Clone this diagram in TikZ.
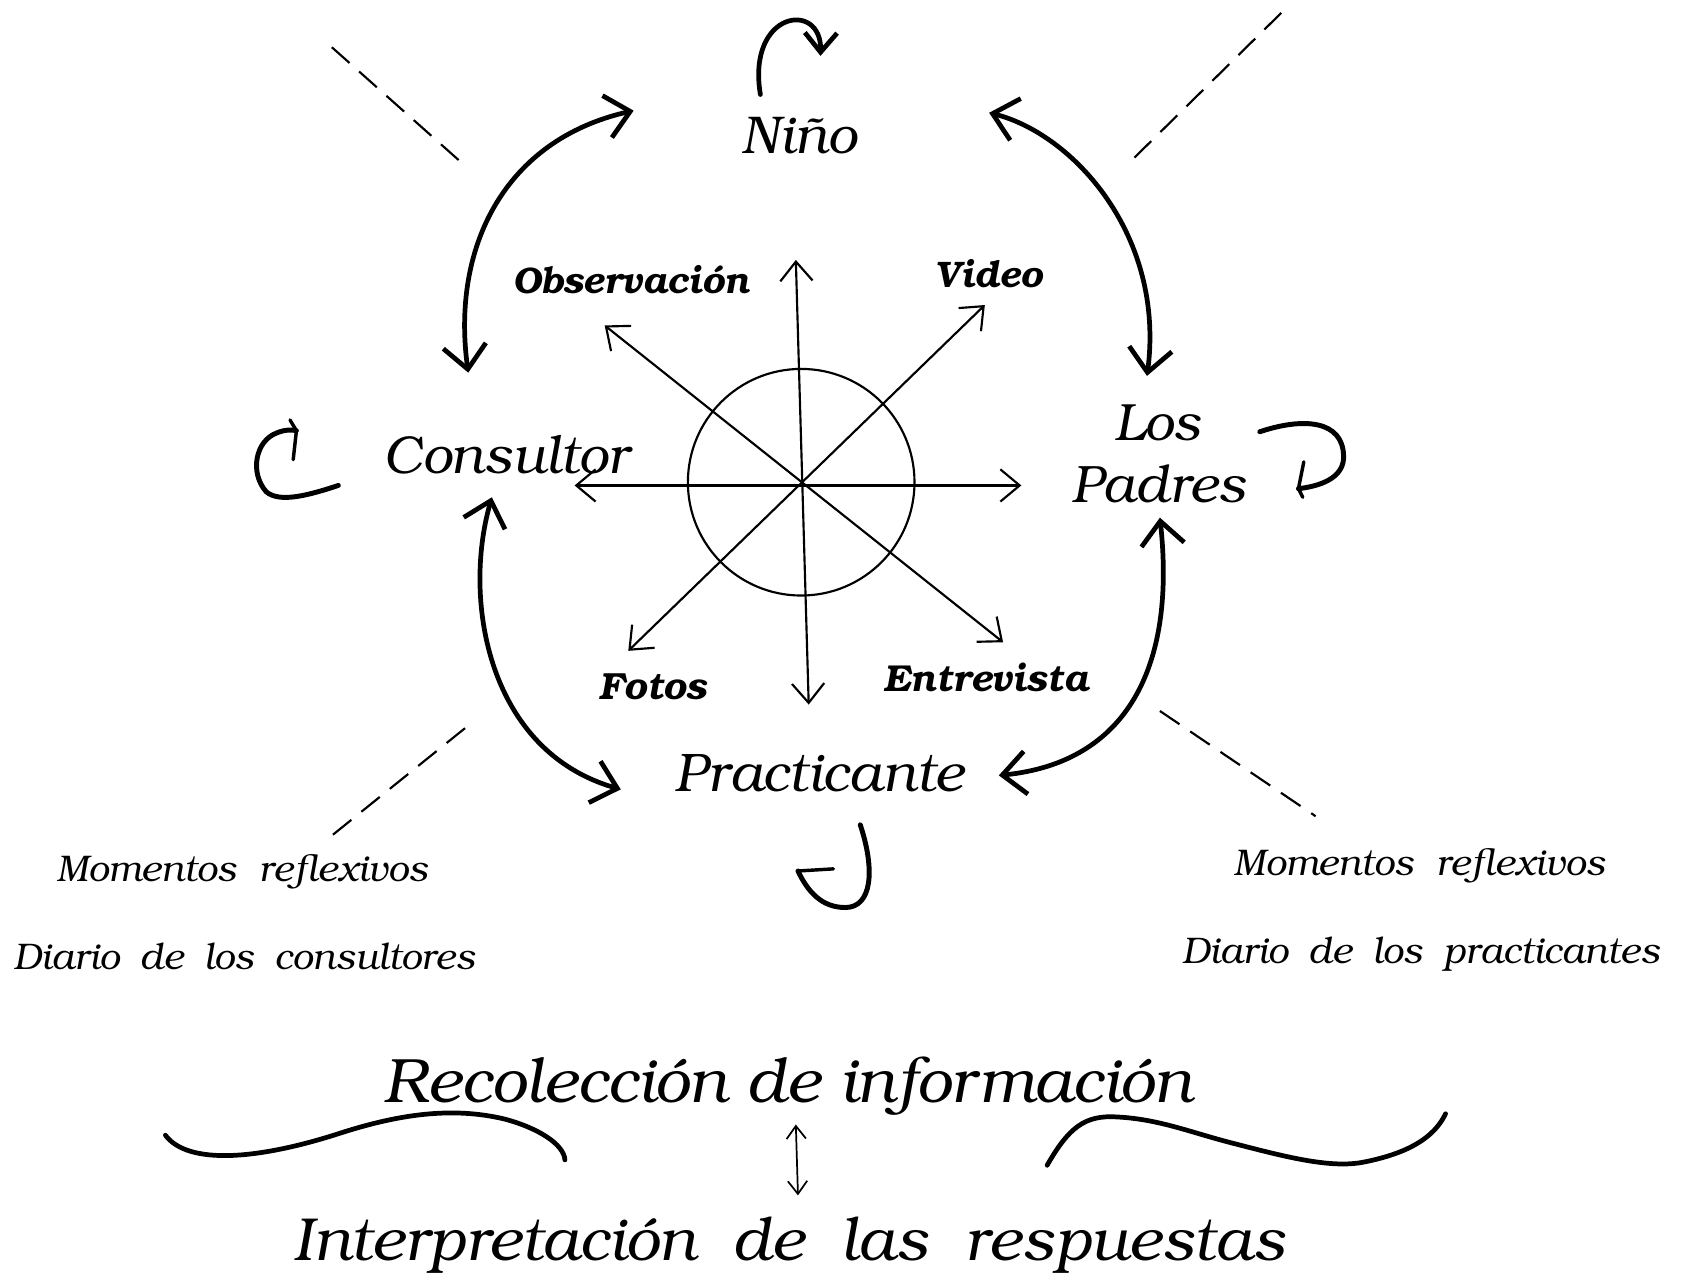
\documentclass[tikz,border=0pt]{standalone}
\usepackage[T1]{fontenc}
\usepackage{bookman}
\usepackage{graphicx}
\usetikzlibrary{arrows.meta}
\tikzset{
  lbl/.style={inner sep=0pt, anchor=base west, font=\itshape},
  blbl/.style={inner sep=0pt, anchor=base west, font=\bfseries\itshape},
  spoke/.style={line width=1pt, {Straight Barb[length=9pt,width=15pt]}-{Straight Barb[length=9pt,width=15pt]}},
  bigarc/.style={line width=2.2pt, line cap=round, {Straight Barb[length=11pt,width=20pt]}-{Straight Barb[length=11pt,width=20pt]}},
  selfloop/.style={line width=2.3pt, line cap=round},
  selfarrow/.style={line width=2.2pt, line cap=round, -{Straight Barb[length=9pt,width=15pt]}},
  barb/.style={line width=1.6pt, line cap=round},
  dashln/.style={line width=1pt, dash pattern=on 11pt off 6pt},
  wave/.style={line width=2.2pt, line cap=round},
  smallarr/.style={line width=0.8pt, {Straight Barb[length=6pt,width=9pt]}-{Straight Barb[length=6pt,width=9pt]}},
}
\newcommand{\fitw}[2]{\resizebox{#1}{!}{#2}}
\newcommand{\wsp}{\hspace{0.55em}}
\begin{document}
\begin{tikzpicture}[x=0.5pt,y=-0.5pt]
\useasboundingbox (0,0) rectangle (1568,1189);

% main labels
\node[lbl] (nino) at (690,143) {\fitw{53.5pt}{Ni\~no}};
\node[lbl] (consultor) at (357,441) {\fitw{114pt}{Consultor}};
\node[lbl] (los) at (1037,410) {\fitw{40.5pt}{Los}};
\node[lbl] (padres) at (997,468) {\fitw{81.5pt}{Padres}};
\node[lbl] (practicante) at (628,737) {\fitw{134.5pt}{Practicante}};

% tool labels
\node[blbl] (obs) at (477,273) {\fitw{110pt}{Observaci\'on}};
\node[blbl] (video) at (870,268) {\fitw{50pt}{Video}};
\node[blbl] (fotos) at (557,651) {\fitw{50pt}{Fotos}};
\node[blbl] (entrevista) at (822,644) {\fitw{95.5pt}{Entrevista}};

% side texts
\node[lbl] (momL) at (52,821) {\fitw{173pt}{Momentos\ \ reflexivos}};
\node[lbl] (diaL) at (12,903) {\fitw{215pt}{Diario\wsp de\wsp los\wsp consultores}};
\node[lbl] (momR) at (1148,815) {\fitw{173pt}{Momentos\ \ reflexivos}};
\node[lbl] (diaR) at (1100,897) {\fitw{222.5pt}{Diario\wsp de\wsp los\wsp practicantes}};

% bottom texts
\node[lbl] (recol) at (357,1027) {\fitw{376.5pt}{Recolecci\'on de informaci\'on}};
\node[lbl] (interp) at (273,1174) {\fitw{461.5pt}{Interpretaci\'on\ \ de\ \ las\ \ respuestas}};

% centre circle
\node[circle, draw, line width=1pt, minimum size=105.5pt, inner sep=0pt] (ctr) at (746,449) {};

% spoke tips
\coordinate (upTip) at (741,242);
\coordinate (downTip) at (753,656);
\coordinate (leftTip) at (535,452);
\coordinate (rightTip) at (951,452);
\coordinate (obsTip) at (563,303);
\coordinate (entTip) at (934,598);
\coordinate (vidTip) at (917,284);
\coordinate (fotTip) at (585,606);

\draw[spoke] (upTip) -- (downTip);
\draw[spoke] (leftTip) -- (rightTip);
\draw[spoke] (obsTip) -- (entTip);
\draw[spoke] (vidTip) -- (fotTip);

% big double arcs
\coordinate (a1) at (436,347);
\coordinate (b1) at (590,103);
\draw[bigarc] (a1) .. controls (420,230) and (470,130) .. (b1);
\coordinate (a2) at (921,105);
\coordinate (b2) at (1068,350);
\draw[bigarc] (a2) .. controls (1000,125) and (1085,220) .. (b2);
\coordinate (a3) at (458,463);
\coordinate (b3) at (578,735);
\draw[bigarc] (a3) .. controls (430,560) and (455,700) .. (b3);
\coordinate (a4) at (1080,482);
\coordinate (b4) at (930,722);
\draw[bigarc] (a4) .. controls (1095,620) and (1050,710) .. (b4);

% self loops
% Nino
\coordinate (n1) at (708,88);
\coordinate (n2) at (764,52);
\draw[selfarrow] (n1) .. controls (695,10) and (765,0) .. (n2);
% Consultor
\coordinate (c1) at (315,452);
\coordinate (c2) at (276,401);
\coordinate (c3) at (273,428);
\draw[selfloop] (c1) .. controls (285,462) and (260,468) .. (248,458) .. controls (232,440) and (238,410) .. (258,403) .. controls (265,400) and (272,400) .. (c2);
\draw[barb] (270,391) -- (c2) -- (c3);
% Padres
\coordinate (p1) at (1173,402);
\coordinate (p2) at (1209,455);
\coordinate (p3) at (1214,430);
\draw[selfloop] (p1) .. controls (1215,388) and (1250,392) .. (1251,424) .. controls (1252,442) and (1235,452) .. (p2);
\draw[barb] (p3) -- (p2) -- (1213,463);
% Practicante
\coordinate (q1) at (801,768);
\coordinate (q2) at (743,811);
\coordinate (q3) at (776,809);
\draw[selfloop] (q1) .. controls (815,810) and (812,845) .. (787,845) .. controls (765,845) and (752,830) .. (q2);
\draw[barb] (q2) -- (q3);

% dashed lines
\coordinate (d1a) at (309,44);  \coordinate (d1b) at (436,157);
\coordinate (d2a) at (1193,12); \coordinate (d2b) at (1053,150);
\coordinate (d3a) at (433,678); \coordinate (d3b) at (309,778);
\coordinate (d4a) at (1080,662); \coordinate (d4b) at (1225,760);
\draw[dashln] (d1a) -- (d1b);
\draw[dashln] (d2a) -- (d2b);
\draw[dashln] (d3a) -- (d3b);
\draw[dashln] (d4a) -- (d4b);

% bottom
\coordinate (r1) at (741,1047);
\coordinate (r2) at (743,1113);
\draw[smallarr] (r1) -- (r2);
\coordinate (w1) at (154,1057);
\coordinate (w2) at (526,1080);
\draw[wave] (w1) .. controls (175,1085) and (240,1080) .. (317,1055) .. controls (370,1038) and (420,1030) .. (470,1042) .. controls (500,1050) and (525,1065) .. (w2);
\coordinate (w3) at (975,1085);
\coordinate (w4) at (1346,1037);
\draw[wave] (w3) .. controls (995,1050) and (1010,1038) .. (1040,1040) .. controls (1080,1042) and (1110,1055) .. (1150,1065) .. controls (1200,1078) and (1240,1088) .. (1270,1082) .. controls (1310,1074) and (1335,1060) .. (w4);
\end{tikzpicture}
\end{document}
